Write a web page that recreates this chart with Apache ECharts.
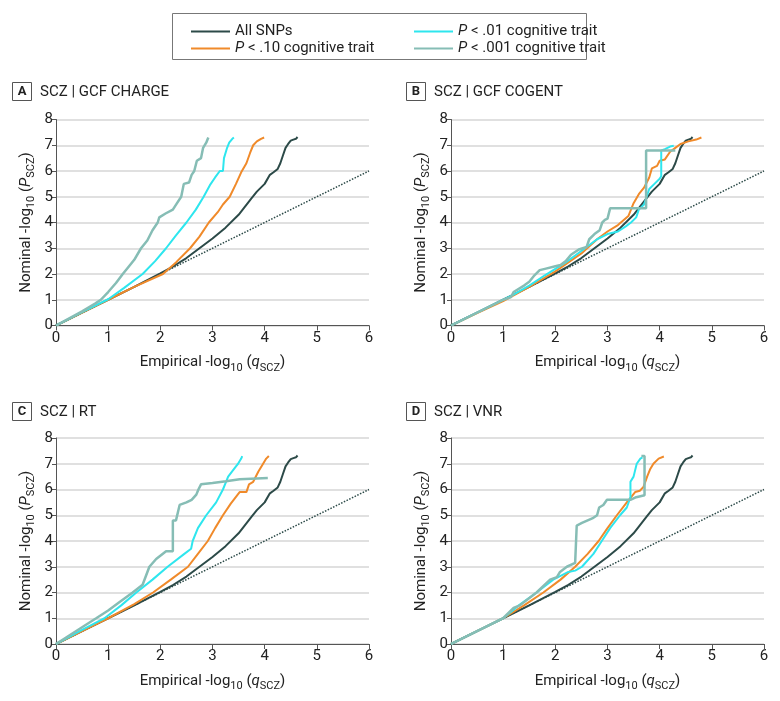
<!DOCTYPE html>
<html>
<head>
<meta charset="utf-8">
<script src="https://cdn.jsdelivr.net/npm/echarts@6/dist/echarts.min.js"></script>
<style>
html,body{margin:0;padding:0;background:#fff;}
#chart{width:780px;height:701px;}
</style>
</head>
<body>
<div id="chart"></div>
<script>
// ---- Data (x = empirical -log10 q, y = nominal -log10 P) ----
var nullLine = [[0, 0], [6, 6]];
var allSnps = [[0,0],[0.5,0.5],[1,1],[1.5,1.5],[2,2.02],[2.25,2.3],[2.5,2.62],[2.75,3.0],[3,3.38],[3.25,3.8],[3.5,4.3],[3.75,4.95],[3.85,5.2],[4,5.5],[4.1,5.85],[4.17,5.95],[4.25,6.08],[4.3,6.3],[4.35,6.6],[4.4,6.9],[4.45,7.05],[4.5,7.18],[4.55,7.22],[4.6,7.25],[4.63,7.32]];

var chargeP10 = [[0,0],[0.5,0.5],[1,1.0],[1.5,1.5],[2.05,2.0],[2.3,2.45],[2.57,3.0],[2.75,3.45],[2.93,4.0],[3.1,4.4],[3.2,4.7],[3.33,5.0],[3.45,5.5],[3.55,5.95],[3.65,6.3],[3.72,6.7],[3.78,7.0],[3.85,7.15],[3.93,7.25],[3.99,7.3]];
var chargeP01 = [[0,0],[0.5,0.52],[1,1.02],[1.3,1.45],[1.66,2.0],[1.9,2.5],[2.11,3.0],[2.3,3.5],[2.5,4.0],[2.68,4.5],[2.83,5.0],[2.95,5.45],[3.05,5.75],[3.14,6.0],[3.2,6.0],[3.22,6.5],[3.28,6.9],[3.32,7.1],[3.38,7.25],[3.41,7.3]];
var chargeP001 = [[0,0],[0.5,0.55],[0.75,0.85],[0.86,1.0],[1.0,1.3],[1.15,1.65],[1.28,2.0],[1.4,2.3],[1.5,2.55],[1.63,3.0],[1.75,3.3],[1.85,3.7],[1.95,4.0],[1.98,4.2],[2.1,4.35],[2.24,4.5],[2.32,4.75],[2.4,5.0],[2.45,5.5],[2.55,5.55],[2.6,5.85],[2.65,6.0],[2.7,6.4],[2.78,6.5],[2.82,6.9],[2.88,7.1],[2.92,7.3]];

var cogentP10 = [[0,0],[0.5,0.48],[1,0.95],[1.5,1.5],[2,2.1],[2.5,2.8],[2.8,3.35],[3.0,3.65],[3.2,3.9],[3.4,4.25],[3.5,4.75],[3.6,5.1],[3.7,5.35],[3.8,5.75],[3.85,6.1],[3.95,6.2],[4.0,6.4],[4.1,6.45],[4.2,6.75],[4.3,6.9],[4.4,7.05],[4.55,7.15],[4.7,7.22],[4.8,7.3]];
var cogentP01 = [[0,0],[0.5,0.5],[1,1.0],[1.2,1.2],[1.5,1.55],[1.8,1.95],[2.0,2.2],[2.2,2.45],[2.4,2.75],[2.6,3.05],[2.8,3.35],[3.0,3.55],[3.2,3.65],[3.35,3.85],[3.45,4.0],[3.55,4.2],[3.6,4.5],[3.7,4.7],[3.75,5.0],[3.8,5.3],[3.9,5.5],[4.0,5.7],[4.03,5.8],[4.03,6.8],[4.1,6.85],[4.2,6.95],[4.27,6.98]];
var cogentP001 = [[0,0],[1.0,1.0],[1.15,1.1],[1.2,1.3],[1.4,1.55],[1.5,1.7],[1.6,1.95],[1.7,2.15],[1.8,2.2],[2.0,2.3],[2.1,2.35],[2.2,2.5],[2.3,2.75],[2.45,2.95],[2.6,3.05],[2.65,3.35],[2.75,3.55],[2.85,3.7],[2.9,4.0],[2.95,4.1],[3.0,4.15],[3.05,4.55],[3.74,4.55],[3.74,6.8],[4.3,6.8]];

var rtP10 = [[0,0],[0.5,0.5],[1,1.0],[1.5,1.55],[1.86,2.0],[2.2,2.5],[2.53,3.0],[2.72,3.5],[2.91,4.0],[3.05,4.5],[3.2,5.0],[3.35,5.45],[3.52,5.9],[3.65,5.9],[3.7,6.2],[3.78,6.3],[3.88,6.7],[3.97,7.0],[4.03,7.2],[4.08,7.3]];
var rtP01 = [[0,0],[0.5,0.55],[0.93,1.0],[1.25,1.5],[1.54,2.0],[1.85,2.5],[2.14,3.0],[2.46,3.5],[2.59,3.7],[2.62,4.0],[2.72,4.5],[2.88,5.0],[3.07,5.5],[3.2,6.0],[3.3,6.5],[3.45,6.9],[3.49,7.0],[3.55,7.2],[3.57,7.3]];
var rtP001 = [[0,0],[0.5,0.65],[0.77,1.0],[1.0,1.3],[1.2,1.6],[1.47,2.0],[1.66,2.3],[1.79,3.0],[1.92,3.3],[2.11,3.6],[2.24,3.6],[2.24,4.8],[2.3,4.8],[2.37,5.4],[2.5,5.5],[2.6,5.6],[2.69,5.8],[2.73,6.0],[2.78,6.2],[3.0,6.25],[3.26,6.32],[3.52,6.4],[4.06,6.45]];

var vnrP10 = [[0,0],[0.5,0.5],[1,1.0],[1.4,1.5],[1.77,2.0],[2.1,2.5],[2.38,3.0],[2.62,3.5],[2.83,4.0],[3.0,4.5],[3.18,5.0],[3.37,5.5],[3.53,5.9],[3.62,5.95],[3.69,6.1],[3.76,6.5],[3.82,6.8],[3.88,7.0],[3.98,7.2],[4.08,7.28]];
var vnrP01 = [[0,0],[0.5,0.5],[1,1.0],[1.3,1.5],[1.64,2.0],[1.96,2.5],[2.25,2.8],[2.38,2.85],[2.51,3.0],[2.73,3.5],[2.89,4.0],[3.05,4.5],[3.24,5.0],[3.37,5.3],[3.44,5.7],[3.44,6.3],[3.5,6.5],[3.56,7.0],[3.63,7.2],[3.67,7.25]];
var vnrP001 = [[0,0],[0.5,0.5],[1.0,1.0],[1.2,1.4],[1.32,1.5],[1.64,2.0],[1.9,2.5],[2.03,2.6],[2.09,2.8],[2.22,3.0],[2.38,3.15],[2.41,4.6],[2.51,4.7],[2.73,4.9],[2.8,5.0],[2.84,5.3],[2.92,5.4],[2.99,5.6],[3.44,5.6],[3.55,5.7],[3.71,5.78],[3.71,7.3],[3.65,7.3]];

var panelLetters = ['A', 'B', 'C', 'D'];
var panelTitles = ['SCZ | GCF CHARGE', 'SCZ | GCF COGENT', 'SCZ | RT', 'SCZ | VNR'];
var seriesNames = ['All SNPs', 'P<.10 cognitive trait', 'P<.01 cognitive trait', 'P<.001 cognitive trait'];
var panelData = [
  [allSnps, chargeP10, chargeP01, chargeP001],
  [allSnps, cogentP10, cogentP01, cogentP001],
  [allSnps, rtP10, rtP01, rtP001],
  [allSnps, vnrP10, vnrP01, vnrP001]
];
var xTicks = [0, 1, 2, 3, 4, 5, 6];
var yTicks = [0, 1, 2, 3, 4, 5, 6, 7, 8];

// ---- Styles ----
var FONT = '"Roboto", "Noto Sans", sans-serif';
var colors = ['#2c4a48', '#f08a2a', '#2ee6ee', '#86bdb5'];
var widths = [2, 2, 2, 2.5];
var grids = [
  {left: 56, top: 119.5, width: 313, height: 206},
  {left: 451, top: 119.5, width: 313, height: 206},
  {left: 56, top: 438, width: 313, height: 206},
  {left: 451, top: 438, width: 313, height: 206}
];
var titlePos = [[12.5, 82.5], [406.5, 82.5], [12.5, 402.5], [406.5, 402.5]];

var rich = {
  n: {fontFamily: FONT, fontSize: 15, color: '#222', lineHeight: 20},
  i: {fontFamily: FONT, fontSize: 15, color: '#222', fontStyle: 'italic', lineHeight: 20},
  s: {fontFamily: FONT, fontSize: 11, color: '#222', lineHeight: 11, padding: [11, 0, 0, 0]}
};

var option = {
  animation: false,
  backgroundColor: '#fff',
  textStyle: {fontFamily: FONT},
  grid: grids,
  xAxis: [], yAxis: [], series: [],
  legend: [
    {
      data: [seriesNames[0], seriesNames[1]], orient: 'vertical', left: 186, top: 19,
      icon: 'rect', itemWidth: 39, itemHeight: 2, itemGap: 2,
      textStyle: {fontFamily: FONT, fontSize: 15, color: '#222', rich: rich},
      formatter: function (n) { return n === 'All SNPs' ? '{n|All SNPs}' : '{i|P}{n| < .10 cognitive trait}'; }
    },
    {
      data: [seriesNames[2], seriesNames[3]], orient: 'vertical', left: 409, top: 19,
      icon: 'rect', itemWidth: 39, itemHeight: 2, itemGap: 2,
      textStyle: {fontFamily: FONT, fontSize: 15, color: '#222', rich: rich},
      formatter: function (n) { return n.indexOf('.001') >= 0 ? '{i|P}{n| < .001 cognitive trait}' : '{i|P}{n| < .01 cognitive trait}'; }
    }
  ],
  graphic: [
    {type: 'rect', shape: {x: 172.5, y: 13.5, width: 414, height: 46}, style: {fill: 'none', stroke: '#777', lineWidth: 1}}
  ]
};

for (var p = 0; p < 4; p++) {
  option.xAxis.push({
    gridIndex: p, type: 'value', min: xTicks[0], max: xTicks[xTicks.length - 1], interval: 1,
    name: '{n|Empirical -log}{s|10}{n| (}{i|q}{s|SCZ}{n|)}', nameLocation: 'middle', nameGap: 27,
    nameTextStyle: {rich: rich},
    axisLine: {show: true, lineStyle: {color: '#555', width: 1}},
    axisTick: {show: true, length: 5, lineStyle: {color: '#555'}},
    axisLabel: {fontFamily: FONT, fontSize: 15, color: '#222', margin: 5},
    splitLine: {show: false}
  });
  option.yAxis.push({
    gridIndex: p, type: 'value', min: yTicks[0], max: yTicks[yTicks.length - 1], interval: 1,
    name: '{n|Nominal -log}{s|10}{n| (}{i|P}{s|SCZ}{n|)}', nameLocation: 'middle', nameGap: 20,
    nameTextStyle: {rich: rich},
    axisLine: {show: true, lineStyle: {color: '#555', width: 1}},
    axisTick: {show: true, length: 4, lineStyle: {color: '#555'}},
    axisLabel: {fontFamily: FONT, fontSize: 15, color: '#222', margin: 3},
    splitLine: {show: true, lineStyle: {color: '#d6d6d6', width: 1.5}}
  });
  option.series.push({
    type: 'line', xAxisIndex: p, yAxisIndex: p, data: nullLine, showSymbol: false, silent: true,
    lineStyle: {color: '#2c4a48', width: 1.5, type: [1.5, 1.5]}, z: 1
  });
  for (var s = 0; s < 4; s++) {
    option.series.push({
      type: 'line', name: seriesNames[s], xAxisIndex: p, yAxisIndex: p, data: panelData[p][s],
      showSymbol: false, symbol: 'none', smooth: false,
      lineStyle: {color: colors[s], width: widths[s]}, itemStyle: {color: colors[s]}, z: 2 + s
    });
  }
  var tp = titlePos[p];
  option.graphic.push({
    type: 'rect', shape: {x: tp[0], y: tp[1], width: 19, height: 18},
    style: {fill: '#fff', stroke: '#555', lineWidth: 1}
  });
  option.graphic.push({
    type: 'text', x: tp[0] + 9.5, y: tp[1] + 9.5,
    style: {text: panelLetters[p], fontFamily: FONT, fontSize: 13, fontWeight: 'bold', fill: '#222', align: 'center', verticalAlign: 'middle'}
  });
  option.graphic.push({
    type: 'text', x: tp[0] + 27.5, y: tp[1] + 9.5,
    style: {text: panelTitles[p], fontFamily: FONT, fontSize: 15, fill: '#222', align: 'left', verticalAlign: 'middle'}
  });
}

var chart = echarts.init(document.getElementById('chart'), null, {renderer: 'canvas'});
chart.setOption(option);
</script>
</body>
</html>
